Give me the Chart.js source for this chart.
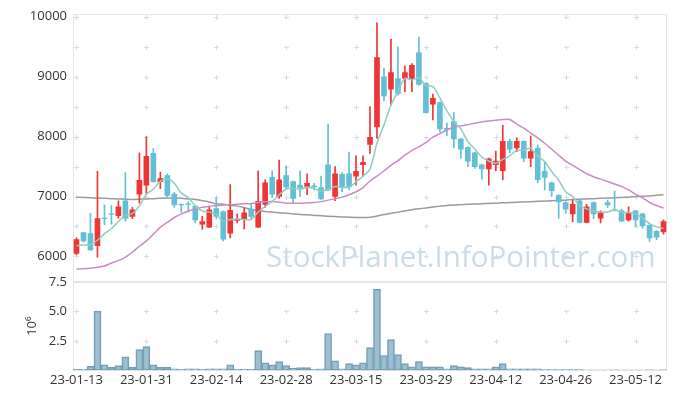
<!DOCTYPE html>
<html>
<head>
<meta charset="utf-8">
<script src="https://cdn.jsdelivr.net/npm/chart.js@4/dist/chart.umd.min.js"></script>
<style>
html,body{margin:0;padding:0;background:#fff;}
#wrap{width:677px;height:398px;position:relative;}
</style>
</head>
<body>
<div id="wrap"><canvas id="c" width="677" height="398"></canvas></div>
<script>
const dates = ["23-01-13","23-01-16","23-01-17","23-01-18","23-01-19","23-01-20","23-01-25","23-01-26","23-01-27","23-01-30",
"23-01-31","23-02-01","23-02-02","23-02-03","23-02-06","23-02-07","23-02-08","23-02-09","23-02-10","23-02-13",
"23-02-14","23-02-15","23-02-16","23-02-17","23-02-20","23-02-21","23-02-22","23-02-23","23-02-24","23-02-27",
"23-02-28","23-03-02","23-03-03","23-03-06","23-03-07","23-03-08","23-03-09","23-03-10","23-03-13","23-03-14",
"23-03-15","23-03-16","23-03-17","23-03-20","23-03-21","23-03-22","23-03-23","23-03-24","23-03-27","23-03-28",
"23-03-29","23-03-30","23-03-31","23-04-03","23-04-04","23-04-05","23-04-06","23-04-07","23-04-10","23-04-11",
"23-04-12","23-04-13","23-04-14","23-04-17","23-04-18","23-04-19","23-04-20","23-04-21","23-04-24","23-04-25",
"23-04-26","23-04-27","23-04-28","23-05-02","23-05-03","23-05-04","23-05-08","23-05-09","23-05-10","23-05-11",
"23-05-12","23-05-15","23-05-16","23-05-17","23-05-18"];
const xTickLabels = ["23-01-13","23-01-31","23-02-14","23-02-28","23-03-15","23-03-29","23-04-12","23-04-26","23-05-12"];

const openP = [6050,6400,6380,6180,6640,6710,6680,6930,6670,7040,
7190,7720,7250,7350,7040,6870,6880,6840,6540,6490,
6800,6750,6390,6600,6630,6790,6490,6870,7320,7000,
7350,7250,7190,7170,7180,7150,7530,7000,7370,7380,
7340,7530,7870,8160,9000,8790,8970,8970,8970,9400,
8890,8540,8570,8140,8250,7960,7820,7730,7530,7460,
7530,7430,7920,7810,7920,7640,7810,7420,7230,7020,
6900,6710,6930,6570,6900,6640,6900,6780,6760,6610,
6760,6710,6520,6420,6410];
const highP = [6310,6400,6720,7420,6860,6850,6930,7400,6820,7730,
8000,7800,7410,7380,7070,6880,6910,6850,6670,6840,
6980,6760,7200,6710,6810,6870,7430,7280,7430,7610,
7510,7260,7430,7380,7220,7340,8210,7500,7400,7740,
7680,7680,8500,9900,9140,9630,9500,9180,9220,9660,
8900,8710,8580,8230,8400,7970,7830,7740,7540,7640,
7760,8190,7960,7980,7930,8010,7860,7580,7240,7030,
6910,6940,6940,6870,6910,6760,6940,7090,6790,6830,
6770,6720,6530,6430,6610];
const lowP = [6030,6240,6100,5990,6530,6540,6640,6590,6630,6890,
7050,7240,7130,6990,6820,6740,6740,6560,6450,6480,
6630,6260,6310,6560,6460,6630,6480,6820,6980,6970,
7130,6890,7000,7030,7110,6950,7100,6930,7080,7110,
7190,7330,7720,7970,8600,8530,8690,8750,8750,8860,
8390,8280,8080,8010,7810,7640,7500,7470,7290,7190,
7430,7280,7730,7750,7580,7500,7230,7110,7000,6640,
6720,6580,6560,6560,6630,6560,6820,6760,6580,6590,
6500,6470,6250,6280,6370];
const closeP = [6280,6260,6110,6630,6630,6700,6830,6640,6780,7270,
7670,7250,7300,7020,6860,6860,6870,6610,6580,6780,
6670,6290,6770,6620,6730,6670,6920,7230,7040,7280,
7160,6970,7150,7220,7160,6960,7110,7380,7160,7160,
7420,7570,7990,9320,8680,9070,8720,9070,9190,8870,
8400,8640,8130,8120,7960,7790,7590,7500,7460,7630,
7590,7920,7790,7920,7640,7750,7280,7320,7100,6910,
6790,6870,6570,6830,6710,6730,6860,6770,6590,6720,
6610,6510,6310,6320,6580];
const ma5 = [6180,6190,6200,6270,6382,6466,6580,6686,6716,6844,
7038,7122,7254,7302,7220,7058,6982,6844,6756,6740,
6702,6586,6618,6626,6616,6616,6742,6834,6918,7028,
7126,7136,7120,7156,7132,7092,7120,7166,7154,7154,
7246,7338,7460,7892,8196,8526,8756,8972,8946,8984,
8850,8834,8646,8432,8250,8128,7918,7792,7660,7594,
7554,7620,7678,7770,7772,7804,7676,7582,7418,7272,
7080,6998,6848,6794,6754,6742,6740,6780,6732,6734,
6710,6640,6548,6494,6466];
const ma20 = [5790,5795,5805,5820,5840,5890,5930,5990,6070,6170,
6260,6370,6490,6570,6650,6710,6760,6790,6820,6835,
6850,6858,6865,6872,6878,6885,6900,6912,6917,6905,
6890,6888,6890,6895,6900,6915,6940,6965,6990,7030,
7080,7150,7260,7340,7430,7520,7600,7690,7770,7830,
7900,7990,8050,8110,8160,8180,8200,8225,8245,8260,
8275,8285,8285,8210,8140,8060,7980,7890,7790,7690,
7590,7520,7450,7380,7330,7290,7250,7210,7170,7110,
7040,6980,6900,6850,6810];
const ma60 = [6990,6985,6980,6975,6970,6965,6960,6955,6950,6955,
6960,6965,6970,6975,6975,6970,6960,6950,6930,6910,
6880,6870,6855,6840,6815,6785,6765,6750,6740,6730,
6720,6710,6700,6695,6685,6680,6670,6665,6660,6655,
6650,6650,6655,6675,6700,6720,6740,6760,6780,6795,
6810,6825,6840,6850,6860,6865,6870,6875,6880,6885,
6890,6895,6900,6905,6910,6915,6920,6925,6930,6935,
6940,6950,6955,6960,6965,6970,6975,6980,6985,6990,
7000,7005,7010,7020,7030];
const volume = [0.09,0.09,0.34,5.03,0.48,0.26,0.40,1.16,0.26,1.76,
2.02,0.48,0.26,0.26,0.14,0.09,0.14,0.14,0.09,0.14,
0.14,0.14,0.48,0.09,0.09,0.09,1.68,0.65,0.48,0.74,
0.40,0.17,0.23,0.23,0.09,0.14,3.13,0.82,0.14,0.57,
0.48,0.65,1.93,6.88,1.25,2.61,1.34,0.57,0.31,0.74,
0.31,0.31,0.31,0.14,0.40,0.31,0.23,0.14,0.14,0.14,
0.31,0.57,0.14,0.14,0.14,0.14,0.14,0.06,0.06,0.06,
0.06,0.06,0.06,0.01,0.01,0.01,0.01,0.05,0.01,0.01,
0.01,0.01,0.05,0.01,0.05];
const priceTicks = [6000,6500,7000,7500,8000,8500,9000,9500,10000];
const volTicks = [2.5,5.0,7.5];

const UP = '#ef3535', DOWN = '#62bfd6';
const candleColor = closeP.map((c,i)=> c >= openP[i] ? UP : DOWN);

const crossGrid = {
  id:'crossGrid',
  beforeDatasetsDraw(chart){
    const ctx = chart.ctx, x = chart.scales.x, y = chart.scales.y, yv = chart.scales.yv;
    const area = chart.chartArea;
    ctx.save();
    ctx.font = '29.5px "Open Sans", sans-serif';
    ctx.fillStyle = '#cadde7';
    ctx.textBaseline = 'alphabetic';
    ctx.fillText('StockPlanet.InfoPointer.com', 266, 267);
    ctx.strokeStyle = '#dcdcdc';
    ctx.lineWidth = 1;
    const xs = xTickLabels.map(l=>x.getPixelForValue(dates.indexOf(l)));
    const ys = priceTicks.map(v=>y.getPixelForValue(v)).concat(volTicks.filter(v=>v<7.5).map(v=>yv.getPixelForValue(v)));
    xs.forEach(px=>{
      ys.forEach(py=>{
        const rx = Math.round(px)+0.5, ry = Math.round(py)+0.5;
        ctx.beginPath();
        ctx.moveTo(rx-2.5, ry); ctx.lineTo(rx+2.5, ry);
        ctx.moveTo(rx, ry-2.5); ctx.lineTo(rx, ry+2.5);
        ctx.stroke();
      });
    });
    ctx.strokeStyle = '#e6e6e6';
    ctx.lineWidth = 1;
    ctx.beginPath();
    ctx.moveTo(area.left, Math.round(area.top)+0.5); ctx.lineTo(area.right, Math.round(area.top)+0.5);
    ctx.moveTo(Math.round(area.left)+0.5, area.top); ctx.lineTo(Math.round(area.left)+0.5, area.bottom);
    ctx.moveTo(Math.round(area.right)-0.5, area.top); ctx.lineTo(Math.round(area.right)-0.5, area.bottom);
    ctx.moveTo(area.left, Math.round(area.bottom)-0.5); ctx.lineTo(area.right, Math.round(area.bottom)-0.5);
    ctx.stroke();
    ctx.lineWidth = 2;
    const sep = Math.round(y.bottom);
    ctx.beginPath();
    ctx.moveTo(area.left, sep); ctx.lineTo(area.right, sep);
    ctx.stroke();
    ctx.restore();
  }
};

const chart = new Chart(document.getElementById('c'), {
  type:'bar',
  data:{
    labels: dates,
    datasets:[
      {type:'line', label:'MA5', data: ma5, yAxisID:'y', borderColor:'#8fcdc0', borderWidth:1.5, pointRadius:0, tension:0.3, order:1},
      {type:'line', label:'MA20', data: ma20, yAxisID:'y', borderColor:'#c98bc6', borderWidth:1.5, pointRadius:0, tension:0.3, order:1},
      {type:'line', label:'MA60', data: ma60, yAxisID:'y', borderColor:'#9a9a9a', borderWidth:1.5, pointRadius:0, tension:0.3, order:3},
      {label:'wick', data: lowP.map((l,i)=>[l, highP[i]]), yAxisID:'y', backgroundColor: candleColor, barThickness:1, grouped:false, order:2},
      {label:'body', data: openP.map((o,i)=>[o, closeP[i]]), yAxisID:'y', backgroundColor: candleColor, barThickness:5, grouped:false, order:2},
      {label:'volume', data: volume, yAxisID:'yv', backgroundColor:'rgba(125,170,192,0.75)', borderColor:'#6f9db3', borderWidth:1, borderSkipped:false, categoryPercentage:1, barPercentage:1, grouped:false, order:2}
    ]
  },
  options:{
    responsive:false,
    animation:false,
    events:[],
    layout:{padding:{top:12, right:10, left:0, bottom:8}},
    plugins:{legend:{display:false}, tooltip:{enabled:false}},
    scales:{
      x:{
        type:'category', offset:true,
        grid:{display:false, drawTicks:false}, border:{display:false},
        ticks:{autoSkip:false, maxRotation:0, color:'#333', padding:2,
          font:{family:'"Open Sans", sans-serif', size:13},
          callback:function(v,i){ const l = dates[i]; return xTickLabels.includes(l) ? l : ''; }}
      },
      yv:{
        position:'left', stack:'s', stackWeight:1, weight:0, min:0, max:7.5,
        grid:{display:false, drawTicks:false}, border:{display:false},
        afterBuildTicks:(s)=>{ s.ticks = volTicks.map(v=>({value:v})); },
        afterFit:(s)=>{ s.width = 73; },
        title:{display:true, text:'10⁶', color:'#333', font:{family:'"Open Sans", sans-serif', size:13}, padding:{top:24,bottom:0}},
        ticks:{color:'#333', padding:6, font:{family:'"Open Sans", sans-serif', size:13},
          callback:(v)=>Number(v).toFixed(1)}
      },
      y:{
        position:'left', stack:'s', stackWeight:3.03, weight:1, min:5575, max:10050,
        grid:{display:false, drawTicks:false}, border:{display:false},
        afterBuildTicks:(s)=>{ s.ticks = priceTicks.map(v=>({value:v})); },
        afterFit:(s)=>{ s.width = 73; },
        ticks:{color:'#333', padding:6, font:{family:'"Open Sans", sans-serif', size:13},
          callback:(v)=>String(v)}
      }
    }
  },
  plugins:[crossGrid]
});
</script>
</body>
</html>
